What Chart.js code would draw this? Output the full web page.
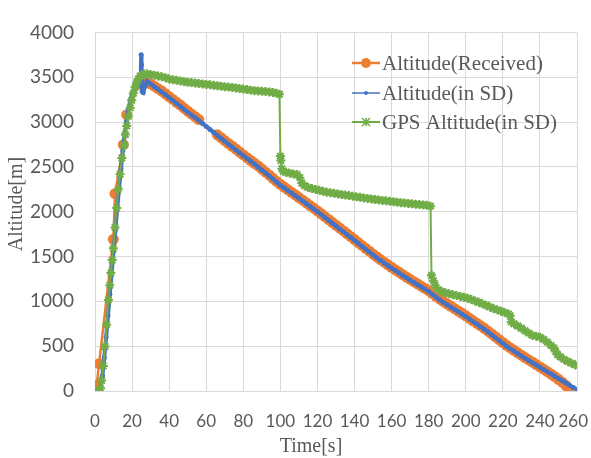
<!DOCTYPE html>
<html>
<head>
<meta charset="utf-8">
<script src="https://cdn.jsdelivr.net/npm/chart.js@4.4.1/dist/chart.umd.min.js"></script>
<style>
  html, body { margin: 0; padding: 0; background: #ffffff; }
  #wrap { width: 591px; height: 458px; }
</style>
</head>
<body>
<div id="wrap"><canvas id="c" width="591" height="458"></canvas></div>
<script>
// Flight log: altitude over time from three sources.
const xTicks = [0, 20, 40, 60, 80, 100, 120, 140, 160, 180, 200, 220, 240, 260];
const yTicks = [0, 500, 1000, 1500, 2000, 2500, 3000, 3500, 4000];

// Altitude received over the radio link
const receivedTime = [0.9, 2.2, 9.9, 10.8, 15.3, 17.1, 23.4, 26, 28, 30, 32, 34, 36, 38, 40, 42, 44, 46, 48, 50, 52, 54, 56,
  66, 68, 70, 72, 74, 76, 78, 80, 82, 84, 86, 88, 90, 92, 94, 96, 98, 100, 102, 104, 106, 108, 110, 112, 114, 116, 118, 120,
  122, 124, 126, 128, 130, 132, 134, 136, 138, 140, 142, 144, 146, 148, 150, 152, 154, 156, 158, 160, 162, 164, 166, 168, 170,
  172, 174, 176, 178, 180, 182, 184, 186, 188, 190, 192, 194, 196, 198, 200, 202, 204, 206, 208, 210, 212, 214, 216, 218, 220,
  222, 224, 226, 228, 230, 232, 234, 236, 238, 240, 242, 244, 246, 248, 250, 252, 254, 255.5];
const receivedAlt = [65, 305, 1692, 2201, 2748, 3082, 3423, 3425, 3440, 3425, 3400, 3372, 3345, 3315, 3283, 3252, 3220, 3190, 3155, 3122, 3090, 3060, 3028,
  2858, 2826, 2792, 2760, 2730, 2698, 2665, 2633, 2602, 2571, 2540, 2510, 2475, 2441, 2407, 2372, 2338, 2304, 2275, 2246, 2216, 2188, 2158, 2129, 2099, 2069, 2039, 2009,
  1977, 1945, 1913, 1881, 1849, 1817, 1785, 1753, 1721, 1689, 1656, 1624, 1591, 1559, 1526, 1495, 1466, 1437, 1408, 1379, 1352, 1325, 1298, 1271, 1244,
  1219, 1194, 1169, 1144, 1119, 1088, 1056, 1025, 996, 970, 944, 918, 892, 866, 839, 811, 783, 755, 727, 699, 667, 636, 604, 572, 541,
  509, 481, 454, 426, 399, 373, 347, 321, 295, 269, 243, 216, 189, 160, 130, 98, 62, 25];

// Barometric altitude logged to the SD card
const sdTime = [2, 3, 4, 5, 6, 7, 8, 9, 10, 11, 12, 13, 14, 15, 16, 17, 18, 19, 20, 21, 22, 23, 24, 24.6, 24.9, 25.1, 25.4, 26, 27, 28,
  30, 32, 34, 36, 38, 40, 42, 44, 46, 48, 50, 52, 54, 56, 58, 60, 62, 64, 66, 68, 70, 72, 74, 76, 78, 80, 82, 84, 86, 88, 90,
  92, 94, 96, 98, 100, 102, 104, 106, 108, 110, 112, 114, 116, 118, 120, 122, 124, 126, 128, 130, 132, 134, 136, 138, 140,
  142, 144, 146, 148, 150, 152, 154, 156, 158, 160, 162, 164, 166, 168, 170, 172, 174, 176, 178, 180, 182, 184, 186, 188, 190,
  192, 194, 196, 198, 200, 202, 204, 206, 208, 210, 212, 214, 216, 218, 220, 222, 224, 226, 228, 230, 232, 234, 236, 238, 240,
  242, 244, 246, 248, 250, 252, 254, 256, 258, 260];
const sdAlt = [0, 40, 170, 370, 600, 840, 1080, 1320, 1560, 1800, 2040, 2270, 2480, 2680, 2860, 3010, 3140, 3240, 3310, 3360, 3390, 3405, 3415, 3420, 3750, 3640, 3340, 3330, 3400, 3455,
  3425, 3395, 3365, 3335, 3305, 3273, 3240, 3208, 3176, 3143, 3110, 3080, 3050, 3017, 2984, 2950, 2918, 2885, 2851, 2818, 2785, 2753, 2721, 2689, 2657, 2625, 2594, 2563, 2531, 2500, 2466,
  2432, 2398, 2364, 2330, 2295, 2266, 2237, 2208, 2179, 2150, 2120, 2090, 2060, 2030, 2000, 1968, 1936, 1904, 1872, 1840, 1808, 1776, 1744, 1712, 1680,
  1647, 1615, 1582, 1550, 1517, 1486, 1457, 1428, 1399, 1370, 1343, 1316, 1289, 1262, 1235, 1210, 1185, 1160, 1135, 1110, 1079, 1047, 1016, 987, 961,
  935, 909, 883, 857, 830, 802, 774, 746, 718, 690, 658, 627, 595, 563, 532, 500, 472, 445, 417, 390, 365, 340, 315, 290, 265,
  240, 215, 190, 165, 140, 115, 90, 65, 40, 15];

// GPS altitude logged to the SD card
const gpsTime = [1, 2, 3, 3.6, 4.5, 5.4, 6.3, 7.2, 8, 8.6, 9.3, 9.9, 10.8, 11.7, 12.5, 13.5, 14.5, 15.7, 16.4, 17.1, 18, 19, 19.8, 20.7, 21.6, 22.5, 23.4, 24.3, 25.5, 26.5, 28, 30,
  32, 34, 36, 38, 40, 42, 44, 46, 48, 50, 52, 54, 56, 58, 60, 62, 64, 66, 68, 70, 72, 74, 76, 78, 80, 82, 84, 86, 88, 90, 92, 94, 96, 98, 99.5,
  100, 100.3, 100.8, 101.5, 103, 105, 107, 109, 110.5, 111.5, 113, 115, 117, 119, 121, 123, 125, 127, 129, 131, 133, 135, 137, 139, 141, 143, 145, 147, 149, 151, 153, 155, 157, 159, 161, 163, 165, 167, 169, 171, 173, 175, 177, 179, 181,
  181.5, 182.5, 183.5, 185, 187, 189, 191, 193, 195, 197, 199, 201, 203, 205, 207, 209, 211, 213, 215, 217, 219, 221, 223, 224,
  224.5, 226, 228, 230, 232, 234, 236, 238, 240, 242, 244, 246, 247.5, 248.5, 249.5, 251, 253, 255, 257, 259, 260.5];
const gpsAlt = [0, 0, 30, 118, 280, 496, 740, 1016, 1180, 1315, 1460, 1591, 1825, 2040, 2250, 2417, 2600, 2740, 2860, 2956, 3064, 3160, 3243, 3320, 3387, 3440, 3480, 3513, 3525, 3535, 3538, 3530,
  3522, 3515, 3505, 3495, 3480, 3472, 3465, 3458, 3450, 3444, 3440, 3436, 3430, 3425, 3420, 3415, 3410, 3405, 3400, 3395, 3390, 3386, 3380, 3374, 3368, 3362, 3356, 3350, 3347, 3344, 3340, 3336, 3330, 3320, 3310,
  2620, 2570, 2480, 2450, 2440, 2430, 2420, 2415, 2380, 2320, 2290, 2270, 2258, 2248, 2238, 2228, 2218, 2212, 2205, 2198, 2192, 2186, 2180, 2173, 2166, 2160, 2154, 2148, 2142, 2136, 2131, 2126, 2121, 2116, 2111, 2106, 2101, 2097, 2092, 2088, 2084, 2080, 2076, 2072, 2062,
  1290, 1230, 1180, 1130, 1110, 1095, 1085, 1075, 1065, 1055, 1045, 1035, 1020, 1005, 990, 972, 955, 938, 920, 905, 890, 875, 860, 840,
  770, 750, 725, 700, 672, 645, 620, 612, 600, 575, 545, 510, 480, 440, 406, 380, 352, 330, 310, 292, 280];

const seriesNames = ['Altitude(Received)', 'Altitude(in SD)', 'GPS Altitude(in SD)'];
const seriesColors = ['#ED7D31', '#4472C4', '#70AD47'];

const toPoints = (xs, ys) => xs.map((x, i) => ({ x: x, y: ys[i] }));

const TICK_FONT = '17px Lato';
const TEXT_COLOR = '#595959';
const GRID_COLOR = '#d9d9d9';

function drawMarker(ctx, style, x, y, r, color) {
  ctx.save();
  ctx.fillStyle = color;
  ctx.strokeStyle = color;
  if (style === 'star') {
    ctx.lineWidth = 1.5;
    ctx.beginPath();
    ctx.moveTo(x - r, y - r); ctx.lineTo(x + r, y + r);
    ctx.moveTo(x - r, y + r); ctx.lineTo(x + r, y - r);
    ctx.moveTo(x, y - r); ctx.lineTo(x, y + r);
    ctx.stroke();
  } else {
    ctx.beginPath();
    ctx.arc(x, y, r, 0, Math.PI * 2);
    ctx.fill();
  }
  ctx.restore();
}

// Legend inside the plot, x-axis labels and axis titles
const annotations = {
  id: 'annotations',
  afterDraw(chart) {
    const ctx = chart.ctx;
    const xs = chart.scales.x;
    ctx.save();
    // x tick labels (last label kept inside the canvas)
    ctx.font = TICK_FONT;
    ctx.fillStyle = TEXT_COLOR;
    ctx.textAlign = 'center';
    ctx.textBaseline = 'middle';
    xTicks.forEach(v => {
      const label = String(v);
      const w = ctx.measureText(label).width;
      let px = xs.getPixelForValue(v);
      if (px + w / 2 > chart.width - 3) px = chart.width - 3 - w / 2;
      ctx.fillText(label, px, 422);
    });

    // axis titles
    ctx.font = '20px "Liberation Serif", "Times New Roman", serif';
    ctx.fillText('Time[s]', 311, 447);
    ctx.save();
    ctx.translate(17, 204);
    ctx.rotate(-Math.PI / 2);
    ctx.fillText('Altitude[m]', 0, 0);
    ctx.restore();

    // legend
    const styles = ['circle', 'circle', 'star'];
    const radii = [5, 2, 4];
    const widths = [2.5, 1.5, 2];
    const rows = [63, 93, 122];
    ctx.font = '21px "Liberation Serif", "Times New Roman", serif';
    ctx.textAlign = 'left';
    seriesNames.forEach((name, i) => {
      const y = rows[i];
      ctx.strokeStyle = seriesColors[i];
      ctx.lineWidth = widths[i];
      ctx.beginPath();
      ctx.moveTo(352, y);
      ctx.lineTo(380, y);
      ctx.stroke();
      drawMarker(ctx, styles[i], 366, y, radii[i], seriesColors[i]);
      ctx.fillStyle = TEXT_COLOR;
      ctx.fillText(name, 382, y + 1);
    });
    ctx.restore();
  }
};

const bgPlugin = {
  id: 'bg',
  beforeDraw(chart) {
    const ctx = chart.ctx;
    ctx.save();
    ctx.fillStyle = '#ffffff';
    ctx.fillRect(0, 0, chart.width, chart.height);
    ctx.restore();
  }
};

new Chart(document.getElementById('c'), {
  type: 'scatter',
  data: {
    datasets: [
      {
        label: seriesNames[0],
        data: toPoints(receivedTime, receivedAlt),
        showLine: true,
        borderColor: seriesColors[0],
        backgroundColor: seriesColors[0],
        borderWidth: 2.5,
        pointRadius: 5.5,
        pointBorderWidth: 0,
        pointStyle: 'circle',
        order: 3
      },
      {
        label: seriesNames[1],
        data: toPoints(sdTime, sdAlt),
        showLine: true,
        borderColor: seriesColors[1],
        backgroundColor: seriesColors[1],
        borderWidth: 4,
        pointRadius: 2.5,
        pointBorderWidth: 0,
        pointStyle: 'circle',
        order: 2
      },
      {
        label: seriesNames[2],
        data: toPoints(gpsTime, gpsAlt),
        showLine: true,
        borderColor: seriesColors[2],
        backgroundColor: seriesColors[2],
        borderWidth: 2,
        pointRadius: 4.5,
        pointBorderWidth: 2,
        pointStyle: 'star',
        order: 1
      }
    ]
  },
  options: {
    responsive: false,
    animation: false,
    devicePixelRatio: 1,
    layout: { padding: { left: 0, right: 14, top: 20, bottom: 0 } },
    plugins: {
      legend: { display: false },
      tooltip: { enabled: false },
      title: { display: false }
    },
    scales: {
      x: {
        type: 'linear',
        min: 0,
        max: 260,
        afterBuildTicks: s => { s.ticks = xTicks.map(v => ({ value: v })); },
        afterFit: s => { s.height = 67; },
        ticks: { display: false },
        grid: { color: GRID_COLOR, lineWidth: 1, drawTicks: false },
        border: { color: GRID_COLOR, width: 1 }
      },
      y: {
        type: 'linear',
        min: 0,
        max: 4000,
        afterBuildTicks: s => { s.ticks = yTicks.map(v => ({ value: v })); },
        afterFit: s => { s.width = 95; },
        ticks: {
          color: TEXT_COLOR,
          font: { family: 'Lato', size: 19 },
          padding: 21,
          callback: v => String(v)
        },
        grid: { color: GRID_COLOR, lineWidth: 1, drawTicks: false },
        border: { color: GRID_COLOR, width: 1 }
      }
    }
  },
  plugins: [bgPlugin, annotations]
});
</script>
</body>
</html>
